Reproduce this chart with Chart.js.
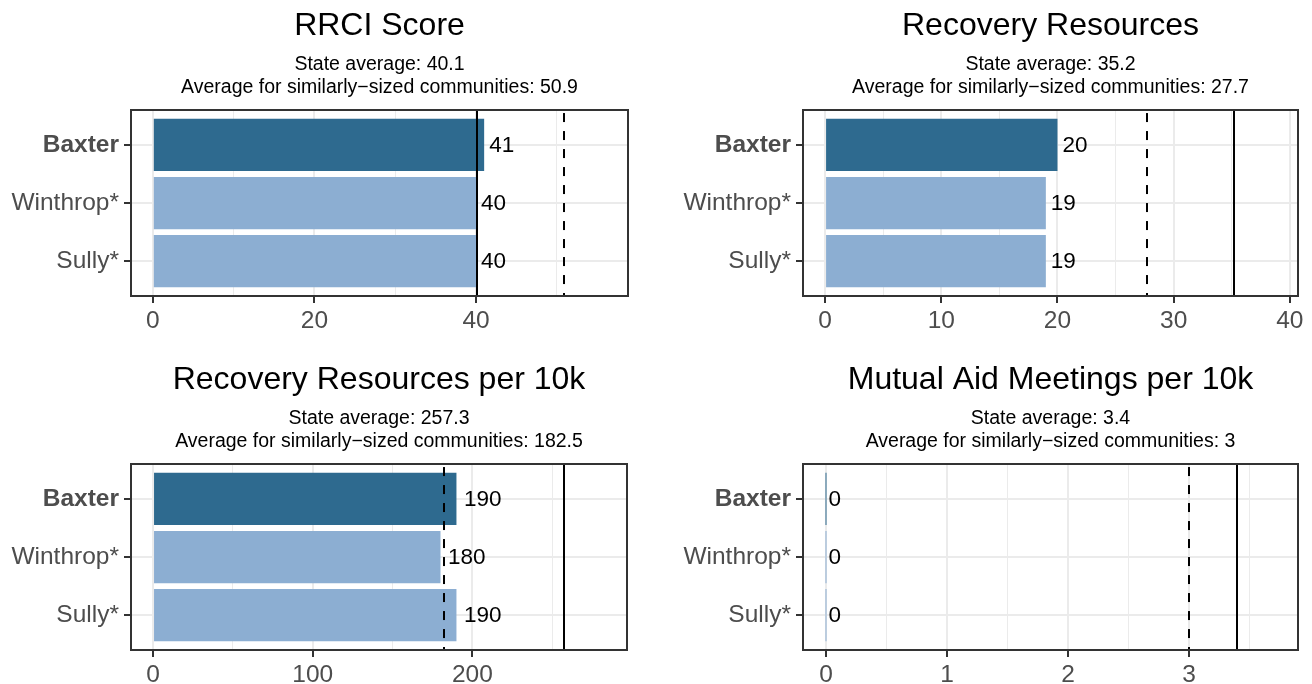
<!DOCTYPE html>
<html lang="en">
<head>
<meta charset="UTF-8">
<title>Recovery indicators – Baxter</title>
<script src="https://cdn.jsdelivr.net/npm/chart.js@4.4.1/dist/chart.umd.min.js"></script>
<style>
  html, body { margin: 0; background: #ffffff; }
  #wrap { position: relative; width: 1312px; height: 684px; overflow: hidden; }
  #wrap canvas { position: absolute; }
</style>
</head>
<body>
<div id="wrap">
  <canvas id="c0" width="656" height="342" style="left:0;top:0"></canvas>
  <canvas id="c1" width="656" height="342" style="left:656px;top:0"></canvas>
  <canvas id="c2" width="656" height="342" style="left:0;top:342px"></canvas>
  <canvas id="c3" width="656" height="342" style="left:656px;top:342px"></canvas>
</div>
<script>
// data
const places = ['Baxter', 'Winthrop*', 'Sully*'];
const placeRows = [1, 2, 3];
const panelTitles = ['RRCI Score', 'Recovery Resources', 'Recovery Resources per 10k', 'Mutual Aid Meetings per 10k'];
const rrciScore = [41, 40, 40];
const recoveryResources = [20, 19, 19];
const resourcesPer10k = [190, 180, 190];
const meetingsPer10k = [0, 0, 0];
const stateAverage = [40.1, 35.2, 257.3, 3.4];
const similarAverage = [50.9, 27.7, 182.5, 3];
const rrciTicks = [0, 20, 40];
const resourceTicks = [0, 10, 20, 30, 40];
const per10kTicks = [0, 100, 200];
const meetingTicks = [0, 1, 2, 3];

Chart.defaults.font.family = '"Liberation Sans", Arial, sans-serif';
Chart.defaults.color = '#4D4D4D';

const DARK = '#2E6A8F';
const LIGHT = '#8CAED2';

// per-panel layout
const panels = [
  { id: 'c0', values: rrciScore, ticks: rrciTicks, range: [-2.7, 58.8], boxLeft: 131, padRight: 28, titleTop: 7, axisH: 46 },
  { id: 'c1', values: recoveryResources, ticks: resourceTicks, range: [-1.9, 40.7], boxLeft: 147, padRight: 14, titleTop: 7, axisH: 46 },
  { id: 'c2', values: resourcesPer10k, ticks: per10kTicks, range: [-13.8, 296.8], boxLeft: 131, padRight: 29, titleTop: 19, axisH: 34 },
  { id: 'c3', values: meetingsPer10k, ticks: meetingTicks, range: [-0.19, 3.9], boxLeft: 147, padRight: 14, titleTop: 19, axisH: 34 }
];

// border, reference lines and value labels
const panelExtras = {
  id: 'panelExtras',
  afterDatasetsDraw(chart, args, opts) {
    const { ctx, chartArea: a } = chart;
    const x = chart.scales.x;
    ctx.save();
    // reference lines
    ctx.strokeStyle = '#000000';
    ctx.lineWidth = 2;
    ctx.beginPath();
    const xs = Math.round(x.getPixelForValue(opts.state));
    ctx.moveTo(xs, a.top); ctx.lineTo(xs, a.bottom);
    ctx.stroke();
    ctx.setLineDash([9, 9]);
    ctx.beginPath();
    const xd = Math.round(x.getPixelForValue(opts.similar));
    ctx.moveTo(xd, a.top + 3); ctx.lineTo(xd, a.bottom);
    ctx.stroke();
    ctx.setLineDash([]);

    // labels
    ctx.font = '22.5px "Liberation Sans", Arial, sans-serif';
    ctx.fillStyle = '#000000';
    ctx.textBaseline = 'middle';
    ctx.textAlign = 'left';
    const ds = chart.data.datasets[0];
    chart.getDatasetMeta(0).data.forEach((bar, i) => {
      const txt = String(ds.data[i].x);
      const w = ctx.measureText(txt).width;
      ctx.fillText(txt, x.getPixelForValue(ds.data[i].x) + 0.2 * w, bar.y + 1);
    });

    // panel border
    ctx.strokeStyle = '#333333';
    ctx.lineWidth = 2;
    ctx.strokeRect(Math.round(a.left), Math.round(a.top), Math.round(a.right - a.left), Math.round(a.bottom - a.top));
    ctx.restore();
  }
};

panels.forEach((p, k) => {
  const step = p.ticks[1] - p.ticks[0];
  const minor = p.ticks.map(v => v + step / 2).filter(v => v < p.range[1]);
  const allTicks = p.ticks.concat(minor).sort((a, b) => a - b);
  const isMajor = v => p.ticks.includes(v);

  new Chart(document.getElementById(p.id), {
    type: 'bar',
    data: {
      datasets: [{
        data: p.values.map((v, i) => ({ x: v, y: placeRows[i] })),
        backgroundColor: places.map((n, i) => i === 0 ? DARK : LIGHT),
        borderWidth: 0,
        barPercentage: 0.9,
        categoryPercentage: 1,
        minBarLength: 1
      }]
    },
    options: {
      responsive: false,
      animation: false,
      devicePixelRatio: 1,
      indexAxis: 'y',
      layout: { padding: { left: 0, right: p.padRight, top: 0, bottom: 0 } },
      plugins: {
        legend: { display: false },
        tooltip: { enabled: false },
        title: {
          display: true,
          text: panelTitles[k],
          fullSize: false,
          color: '#000000',
          font: { size: 32, weight: 'normal', lineHeight: 1.2 },
          padding: { top: p.titleTop, bottom: 0 }
        },
        subtitle: {
          display: true,
          text: ['State average: ' + stateAverage[k],
                 'Average for similarly\u2212sized communities: ' + similarAverage[k]],
          fullSize: false,
          color: '#000000',
          font: { size: 19.5, lineHeight: 1.15 },
          padding: { top: 8.4, bottom: 11.4 }
        },
        panelExtras: { state: stateAverage[k], similar: similarAverage[k] }
      },
      scales: {
        x: {
          type: 'linear',
          min: p.range[0],
          max: p.range[1],
          afterBuildTicks: s => { s.ticks = allTicks.map(v => ({ value: v })); },
          afterFit: s => { s.height = p.axisH; },
          ticks: {
            autoSkip: false,
            maxRotation: 0,
            padding: 4,
            color: '#4D4D4D',
            font: { size: 24.5 },
            callback: v => isMajor(v) ? String(v) : ''
          },
          grid: {
            color: '#EBEBEB',
            lineWidth: c => isMajor(c.tick.value) ? 2 : 1,
            tickLength: 7,
            tickWidth: 2,
            tickColor: c => isMajor(c.tick.value) ? '#333333' : 'rgba(0,0,0,0)'
          },
          border: { display: false }
        },
        y: {
          type: 'linear',
          min: 0.4,
          max: 3.6,
          reverse: true,
          offset: false,
          afterBuildTicks: s => { s.ticks = placeRows.map(v => ({ value: v })); },
          afterFit: s => { s.width = p.boxLeft; },
          ticks: {
            autoSkip: false,
            padding: 5,
            color: '#4D4D4D',
            font: c => ({ size: 24.5, weight: c.tick && c.tick.value === 1 ? 'bold' : 'normal' }),
            callback: v => places[placeRows.indexOf(v)] || ''
          },
          grid: {
            offset: false,
            color: '#EBEBEB',
            lineWidth: 2,
            tickLength: 7,
            tickWidth: 2,
            tickColor: '#333333'
          },
          border: { display: false }
        }
      }
    },
    plugins: [panelExtras]
  });
});
</script>
</body>
</html>
